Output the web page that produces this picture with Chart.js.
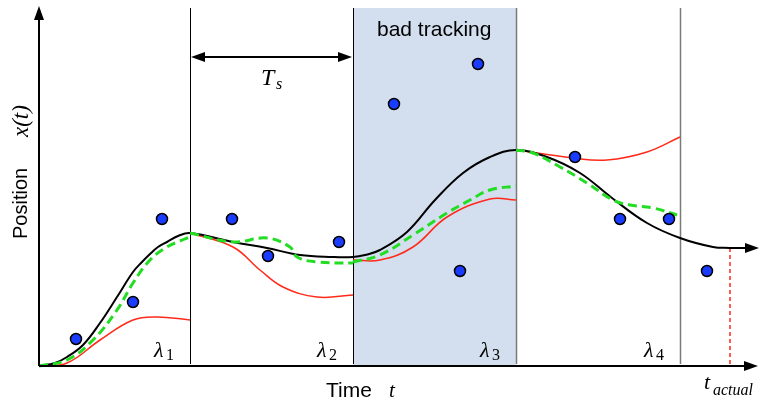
<!DOCTYPE html>
<html>
<head>
<meta charset="utf-8">
<script src="https://cdn.jsdelivr.net/npm/chart.js@4.4.1/dist/chart.umd.min.js"></script>
<style>
  html, body { margin: 0; padding: 0; background: #fff; }
  #wrap { width: 763px; height: 403px; position: relative; }
</style>
</head>
<body>
<div id="wrap"><canvas id="chart"></canvas></div>
<script>
// time / position samples
const boundaries = [151, 314, 477, 641];      // model switch times (lambda_1..4)
const badTracking = [314, 477];
const tActual = 691;
const lambdaLabels = ['λ', 'λ', 'λ', 'λ'];

const truth = [
  [0, 0], [16, 3], [28, 9], [44, 21], [61, 43], [78, 69], [94, 94], [103, 104], [111, 112],
  [119, 119], [128, 124], [139, 130], [151, 133],
  [194, 124], [228, 118], [261, 111], [294, 109], [314, 109],
  [326, 111], [341, 116], [368, 134], [396, 166], [424, 193], [451, 209], [477, 216],
  [508, 209], [541, 193], [573, 168], [608, 143], [641, 128], [674, 119], [691, 118]
];

const greenSeg1 = [[0, 0], [28, 6], [54, 26], [78, 56], [94, 83], [111, 106], [128, 119], [141, 125], [151, 129]];
const greenSeg2 = [[151, 133], [194, 124], [228, 128], [251, 119], [258, 109], [278, 104], [314, 103]];
const greenSeg3 = [[314, 104], [341, 111], [374, 131], [408, 153], [431, 166], [451, 176], [477, 180]];
const greenSeg4 = [[477, 216], [494, 213], [521, 199], [548, 183], [574, 166], [591, 161], [614, 158], [638, 151]];

const redSeg1 = [[0, 0], [28, 3], [61, 26], [94, 46], [118, 49], [151, 46]];
const redSeg2 = [[151, 133], [194, 119], [221, 96], [244, 79], [278, 69], [314, 71]];
const redSeg3 = [[314, 106], [341, 106], [374, 119], [408, 149], [451, 167], [477, 166]];
const redSeg4 = [[477, 216], [534, 208], [568, 206], [608, 214], [641, 229]];

const measurements = [
  [37, 27], [94, 64], [123, 147], [193, 147], [229, 110], [300, 124],
  [355, 262], [439, 302], [421, 95], [536, 209], [581, 147], [630, 147], [668, 95]
];

const toXY = arr => arr.map(p => ({ x: p[0], y: p[1] }));

function lineSet(arr, color, width, dash) {
  return {
    data: toXY(arr),
    borderColor: color,
    borderWidth: width,
    borderDash: dash || [],
    pointRadius: 0,
    showLine: true,
    fill: false,
    tension: 0.4
  };
}

function arrowHead(ctx, x, y, dir) {
  const L = 14, W = 5;
  ctx.beginPath();
  if (dir === 'up') {
    ctx.moveTo(x, y); ctx.lineTo(x - W, y + L); ctx.lineTo(x + W, y + L);
  } else if (dir === 'right') {
    ctx.moveTo(x, y); ctx.lineTo(x - L, y - W); ctx.lineTo(x - L, y + W);
  } else {
    ctx.moveTo(x, y); ctx.lineTo(x + L, y - W); ctx.lineTo(x + L, y + W);
  }
  ctx.closePath();
  ctx.fill();
}

const backdrop = {
  id: 'backdrop',
  beforeDatasetsDraw(chart) {
    const { ctx, scales: { x, y } } = chart;
    const top = y.getPixelForValue(358), base = y.getPixelForValue(0);
    ctx.save();
    ctx.fillStyle = '#d3dfee';
    const a = x.getPixelForValue(badTracking[0]), b = x.getPixelForValue(badTracking[1]);
    ctx.fillRect(a, top, b - a, base - top);
    boundaries.forEach((t, i) => {
      const px = Math.round(x.getPixelForValue(t)) + 0.5;
      ctx.strokeStyle = i >= 2 ? '#7a7a7a' : '#000';
      ctx.lineWidth = i >= 2 ? 1.5 : 1;
      ctx.beginPath(); ctx.moveTo(px, top); ctx.lineTo(px, base - 2); ctx.stroke();
    });
    // t_actual dashed marker
    const ta = x.getPixelForValue(tActual);
    ctx.strokeStyle = '#ff2a1a';
    ctx.lineWidth = 1.5;
    ctx.setLineDash([4, 3]);
    ctx.beginPath(); ctx.moveTo(ta, y.getPixelForValue(118)); ctx.lineTo(ta, base); ctx.stroke();
    ctx.restore();
  },
  afterDatasetsDraw(chart) {
    const { ctx, scales: { x, y } } = chart;
    const ox = x.getPixelForValue(0), oy = y.getPixelForValue(0);
    ctx.save();
    ctx.strokeStyle = '#000';
    ctx.fillStyle = '#000';
    ctx.lineWidth = 2;
    // axes
    const yTop = y.getPixelForValue(360), xEnd = x.getPixelForValue(719);
    ctx.beginPath(); ctx.moveTo(ox, oy); ctx.lineTo(ox, yTop + 10); ctx.stroke();
    arrowHead(ctx, ox, yTop, 'up');
    ctx.beginPath(); ctx.moveTo(ox, oy); ctx.lineTo(xEnd - 10, oy); ctx.stroke();
    arrowHead(ctx, xEnd, oy, 'right');
    // continuation arrow of the true trajectory
    const ey = y.getPixelForValue(118);
    ctx.beginPath(); ctx.moveTo(x.getPixelForValue(tActual), ey); ctx.lineTo(xEnd - 10, ey); ctx.stroke();
    arrowHead(ctx, xEnd + 1, ey, 'right');
    // T_s double arrow
    const ay = y.getPixelForValue(309);
    const a1 = x.getPixelForValue(boundaries[0]) + 1, a2 = x.getPixelForValue(boundaries[1]) - 1;
    ctx.beginPath(); ctx.moveTo(a1 + 10, ay); ctx.lineTo(a2 - 10, ay); ctx.stroke();
    arrowHead(ctx, a1, ay, 'left');
    arrowHead(ctx, a2, ay, 'right');

    // text
    ctx.textBaseline = 'alphabetic';
    ctx.font = '21px "Liberation Sans", Arial, sans-serif';
    ctx.textAlign = 'left';
    ctx.fillText('bad tracking', 377, 36);
    ctx.fillText('Time', 326, 397);

    ctx.font = 'italic 21px "Liberation Serif", "DejaVu Serif", serif';
    ctx.fillText('t', 389, 397);
    ctx.font = 'italic 24px "Liberation Serif", "DejaVu Serif", serif';
    ctx.fillText('T', 261, 85);
    ctx.font = 'italic 16px "Liberation Serif", "DejaVu Serif", serif';
    ctx.fillText('s', 276, 89);

    ctx.font = 'italic 22px "Liberation Serif", "DejaVu Serif", serif';
    ctx.fillText('t', 704, 389);
    ctx.font = 'italic 16px "Liberation Serif", "DejaVu Serif", serif';
    ctx.fillText('actual', 713, 395);

    boundaries.forEach((t, i) => {
      const px = x.getPixelForValue(t);
      ctx.font = 'italic 22px "Liberation Serif", "DejaVu Serif", serif';
      ctx.fillText(lambdaLabels[i], px - 36, 357);
      ctx.font = '16px "Liberation Serif", "DejaVu Serif", serif';
      ctx.fillText(String(i + 1), px - 24, 360);
    });

    // rotated y label
    ctx.save();
    ctx.translate(27, 239);
    ctx.rotate(-Math.PI / 2);
    ctx.font = '20px "Liberation Sans", Arial, sans-serif';
    ctx.fillText('Position', 0, 0);
    ctx.font = 'italic 23px "Liberation Serif", "DejaVu Serif", serif';
    ctx.fillText('x(t)', 102, 1);
    ctx.restore();

    ctx.restore();
  }
};

new Chart(document.getElementById('chart'), {
  type: 'scatter',
  data: {
    datasets: [
      {
        data: toXY(measurements),
        pointRadius: 5.5,
        pointHoverRadius: 5.5,
        pointBackgroundColor: '#1a3cff',
        pointBorderColor: '#000',
        pointBorderWidth: 1.5,
        showLine: false
      },
      lineSet(greenSeg1, '#22dd22', 3, [9, 5]),
      lineSet(greenSeg2, '#22dd22', 3, [9, 5]),
      lineSet(greenSeg3, '#22dd22', 3, [9, 5]),
      lineSet(greenSeg4, '#22dd22', 3, [9, 5]),
      lineSet(truth, '#000', 2),
      lineSet(redSeg1, '#ff2a1a', 1.5),
      lineSet(redSeg2, '#ff2a1a', 1.5),
      lineSet(redSeg3, '#ff2a1a', 1.5),
      lineSet(redSeg4, '#ff2a1a', 1.5)
    ]
  },
  options: {
    responsive: true,
    maintainAspectRatio: false,
    animation: false,
    layout: { padding: 0, autoPadding: false },
    plugins: { legend: { display: false }, tooltip: { enabled: false } },
    scales: {
      x: { type: 'linear', min: -39, max: 724, display: false },
      y: { type: 'linear', min: -37, max: 366, display: false }
    }
  },
  plugins: [backdrop]
});
</script>
</body>
</html>
